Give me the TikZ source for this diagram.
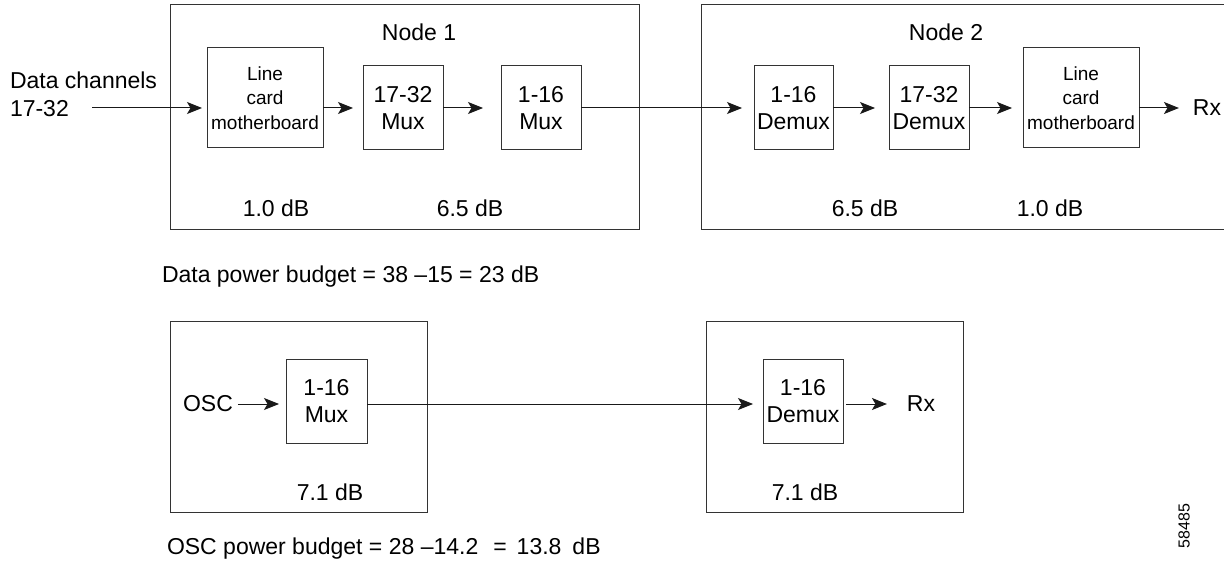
\documentclass[tikz,border=0pt]{standalone}
\usepackage{fontspec}
\setmainfont{Liberation Sans}
\usetikzlibrary{arrows.meta}
\begin{document}
\begin{tikzpicture}[x=1pt,y=-1pt,
  every node/.style={font=\fontsize{23}{27}\selectfont, inner sep=0pt, outer sep=0pt},
  frame/.style={draw=black!80, line width=1pt},
  blk/.style={frame, align=center, minimum width=80pt, minimum height=84pt},
  lcard/.style={frame, align=center, minimum width=116pt, minimum height=100pt,
    font=\fontsize{19}{24.5}\selectfont},
  arr/.style={-{Stealth[length=15pt,width=12pt,inset=3.5pt]}, line width=1pt, draw=black!90}]
\useasboundingbox (0,0) rectangle (1224,564);

% ---------- top row: data channels ----------
\node[frame, minimum width=469pt, minimum height=225pt] (node1) at (404.5,117.5) {};
\node[frame, minimum width=524pt, minimum height=225pt] (node2) at (963,117.5) {};
\node (t1) at (419,32) {Node 1};
\node (t2) at (946,32) {Node 2};

\node[align=left, anchor=west, font=\fontsize{23}{28}\selectfont] (dc) at (10,94) {Data channels\\17-32};
\coordinate (din) at (92,108);

\node[lcard] (lc1) at (265,98) {Line\\card\\motherboard};
\node[blk] (m1) at (403,108) {17-32\\Mux};
\node[blk] (m2) at (541,108) {1-16\\Mux};
\node[blk, minimum width=79pt] (d1) at (793.5,108) {1-16\\Demux};
\node[blk] (d2) at (929,108) {17-32\\Demux};
\node[lcard] (lc2) at (1081,98) {Line\\card\\motherboard};
\node (rx1) at (1207,108) {Rx};

\draw[arr, shorten >=5pt] (din) -- ([yshift=-10pt]lc1.west);
\draw[arr, shorten >=10pt] ([yshift=-10pt]lc1.east) -- (m1.west);
\draw[arr, shorten >=18pt] (m1.east) -- (m2.west);
\draw[arr, shorten >=12pt] (m2.east) -- (d1.west);
\draw[arr, shorten >=14pt] (d1.east) -- (d2.west);
\draw[arr, shorten >=11pt] (d2.east) -- ([yshift=-10pt]lc2.west);
\draw[arr, shorten >=14pt] ([yshift=-10pt]lc2.east) -- (rx1.west);

\node (l1) at (276,208) {1.0 dB};
\node (l2) at (470,208) {6.5 dB};
\node (l3) at (865,208) {6.5 dB};
\node (l4) at (1050,208) {1.0 dB};

\node[anchor=west] (dpb) at (162,277) {Data power budget = 38 –15 = 23 dB};

% ---------- bottom row: OSC ----------
\node[frame, minimum width=257pt, minimum height=191pt] (osc1) at (298.5,416.5) {};
\node[frame, minimum width=257pt, minimum height=191pt] (osc2) at (834.5,416.5) {};
\node[blk, minimum width=81pt] (om) at (326.5,401) {1-16\\Mux};
\node[blk] (od) at (803,401) {1-16\\Demux};
\node (osc) at (208,404) {OSC};
\node (rx2) at (921,404) {Rx};

\draw[arr, shorten <=5pt, shorten >=7pt] (osc.east) -- ([yshift=-3pt]om.west);
\draw[arr, shorten >=10pt] ([yshift=-3pt]om.east) -- ([yshift=-3pt]od.west);
\draw[arr, shorten <=3pt, shorten >=20pt] ([yshift=-3pt]od.east) -- (rx2.west);

\node (l5) at (330,492) {7.1 dB};
\node (l6) at (805,492) {7.1 dB};

\node[anchor=west] (opb) at (167,549) {OSC power budget = 28 –14.2\hspace{15pt}=\hspace{10pt}13.8\hspace{11pt}dB};

\node[rotate=90, font=\fontsize{16}{19}\selectfont] (fig) at (1184,526) {58485};
\end{tikzpicture}
\end{document}
